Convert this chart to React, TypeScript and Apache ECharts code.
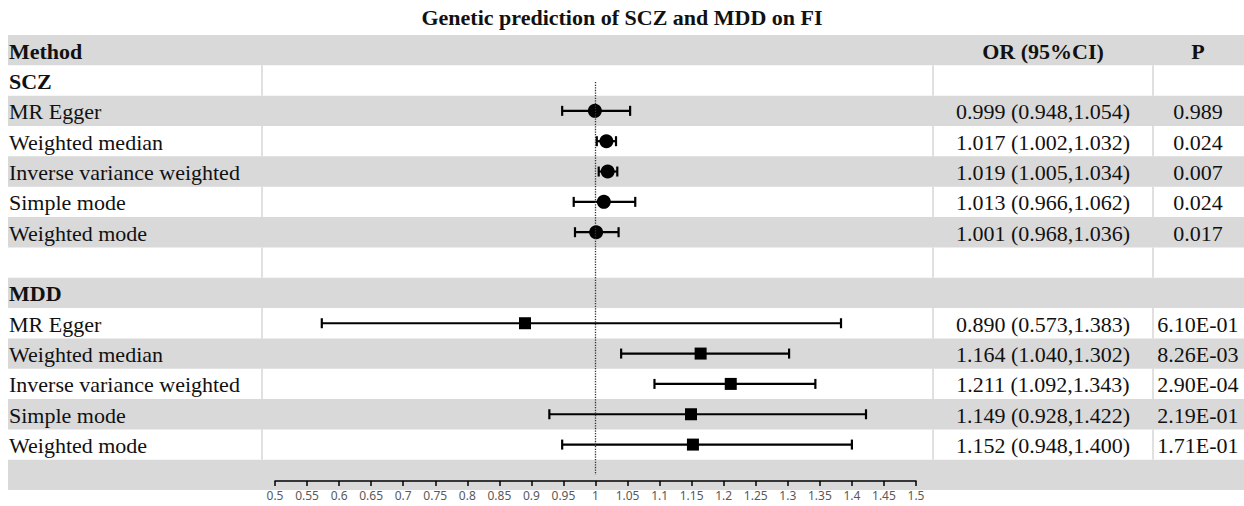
import React, { useEffect, useRef } from "react";
import * as echarts from "echarts";

const titleText = "Genetic prediction of SCZ and MDD on FI";
const headers = ["Method", "OR (95%CI)", "P"];
const groups = ["SCZ", "MDD"];
const methods = [
  "MR Egger",
  "Weighted median",
  "Inverse variance weighted",
  "Simple mode",
  "Weighted mode",
];
const sczOR = [0.999, 1.017, 1.019, 1.013, 1.001];
const sczLo = [0.948, 1.002, 1.005, 0.966, 0.968];
const sczHi = [1.054, 1.032, 1.034, 1.062, 1.036];
const sczP = ["0.989", "0.024", "0.007", "0.024", "0.017"];
const mddOR = [0.89, 1.164, 1.211, 1.149, 1.152];
const mddLo = [0.573, 1.04, 1.092, 0.928, 0.948];
const mddHi = [1.383, 1.302, 1.343, 1.422, 1.4];
const mddP = ["6.10E-01", "8.26E-03", "2.90E-04", "2.19E-01", "1.71E-01"];
const xMin = 0.5;
const xMax = 1.5;
const xStep = 0.05;
const refValue = 1;

type Row = { label: string; bold: boolean; or: string; p: string };

const fmtCI = (o: number, l: number, h: number) =>
  `${o.toFixed(3)} (${l.toFixed(3)},${h.toFixed(3)})`;

function buildRows(): Row[] {
  const rows: Row[] = [];
  rows.push({ label: headers[0], bold: true, or: headers[1], p: headers[2] });
  const sets = [
    { or: sczOR, lo: sczLo, hi: sczHi, p: sczP },
    { or: mddOR, lo: mddLo, hi: mddHi, p: mddP },
  ];
  groups.forEach((g, gi) => {
    rows.push({ label: g, bold: true, or: "", p: "" });
    const s = sets[gi];
    methods.forEach((m, k) => {
      rows.push({ label: m, bold: false, or: fmtCI(s.or[k], s.lo[k], s.hi[k]), p: s.p[k] });
    });
    rows.push({ label: "", bold: false, or: "", p: "" });
  });
  return rows;
}

export default function App() {
  const ref = useRef<HTMLDivElement>(null);
  useEffect(() => {
    if (!ref.current) return;
    const chart = echarts.init(ref.current, undefined, { renderer: "svg" });
    const rows = buildRows();
    const serif = '"Liberation Serif", "Times New Roman", serif';
    const tableLeft = 8;
    const tableRight = 1244;
    const sep = [262, 933, 1153];
    const orCenter = 1043;
    const pCenter = 1198;
    const gray = "#d9d9d9";

    const sczStart = 2;
    const mddStart = 2 + methods.length + 2;
    const sczPoints = sczOR.map((v, k) => [v, sczStart + k + 0.5]);
    const mddPoints = mddOR.map((v, k) => [v, mddStart + k + 0.5]);
    const bars = [
      ...sczLo.map((l, k) => [l, sczHi[k], sczStart + k + 0.5]),
      ...mddLo.map((l, k) => [l, mddHi[k], mddStart + k + 0.5]),
    ];

    const option: any = {
      animation: false,
      title: {
        text: titleText,
        left: "center",
        top: 1,
        textStyle: { fontFamily: serif, fontWeight: "bold", fontSize: 22, color: "#111" },
      },
      grid: { left: 275, right: 1244 - 916, top: 35, height: 446 },
      xAxis: {
        type: "value",
        z: 10,
        min: xMin,
        max: xMax,
        interval: xStep,
        splitLine: { show: false },
        axisLine: { show: true, onZero: false, lineStyle: { color: "#000", width: 1.5 } },
        axisTick: { show: true, length: 5, lineStyle: { color: "#000", width: 1.5 } },
        axisLabel: {
          margin: 8,
          fontSize: 12,
          fontFamily: '"Noto Sans", sans-serif',
          color: "#595959",
          formatter: (v: number) => String(+v.toFixed(2)),
        },
      },
      yAxis: {
        type: "value",
        min: 0,
        max: 14.7,
        inverse: true,
        show: false,
      },
      series: [
        {
          type: "custom",
          z: 0,
          zlevel: 0,
          clip: false,
          silent: true,
          data: rows.map((_, i) => [xMin, i]),
          encode: { x: 0, y: 1 },
          renderItem: (params: any, api: any) => {
            const i = api.value(1);
            const row = rows[i];
            const top = api.coord([xMin, i])[1];
            const bottom = api.coord([xMin, i + 1])[1];
            const mid = (top + bottom) / 2;
            const children: any[] = [];
            if (i % 2 === 0) {
              children.push({
                type: "rect",
                shape: { x: tableLeft, y: top, width: tableRight - tableLeft, height: bottom - top },
                style: { fill: gray },
              });
            } else {
              sep.forEach((sx) => {
                children.push({
                  type: "line",
                  shape: { x1: sx, y1: top, x2: sx, y2: bottom },
                  style: { stroke: "#d6d6d6", lineWidth: 1.5 },
                });
              });
            }
            const font = {
              fontFamily: serif,
              fontSize: 22,
              fontWeight: row.bold ? "bold" : "normal",
              fill: "#111",
              verticalAlign: "middle",
            };
            if (row.label)
              children.push({ type: "text", style: { ...font, text: row.label, x: 9, y: mid + 1, align: "left" } });
            if (row.or)
              children.push({ type: "text", style: { ...font, text: row.or, x: orCenter, y: mid + 1, align: "center" } });
            if (row.p)
              children.push({ type: "text", style: { ...font, text: row.p, x: pCenter, y: mid + 1, align: "center" } });
            return { type: "group", children };
          },
        },
        {
          type: "custom",
          z: 3,
          silent: true,
          data: bars,
          encode: { x: [0, 1], y: 2 },
          renderItem: (params: any, api: any) => {
            const y = api.value(2);
            const p1 = api.coord([api.value(0), y]);
            const p2 = api.coord([api.value(1), y]);
            const cap = 5;
            const st = { stroke: "#000", lineWidth: 2.2 };
            return {
              type: "group",
              children: [
                { type: "line", shape: { x1: p1[0], y1: p1[1], x2: p2[0], y2: p2[1] }, style: st },
                { type: "line", shape: { x1: p1[0], y1: p1[1] - cap, x2: p1[0], y2: p1[1] + cap }, style: st },
                { type: "line", shape: { x1: p2[0], y1: p2[1] - cap, x2: p2[0], y2: p2[1] + cap }, style: st },
              ],
            };
          },
          markLine: {
            silent: true,
            symbol: "none",
            label: { show: false },
            lineStyle: { type: "dotted", color: "#333", width: 1.3 },
            data: [[{ coord: [refValue, 1.55] }, { coord: [refValue, 14.5] }]],
          },
        },
        {
          type: "scatter",
          z: 4,
          silent: true,
          symbol: "circle",
          symbolSize: 14,
          itemStyle: { color: "#000", opacity: 1 },
          data: sczPoints,
        },
        {
          type: "scatter",
          z: 4,
          silent: true,
          symbol: "rect",
          symbolSize: 12,
          itemStyle: { color: "#000", opacity: 1 },
          data: mddPoints,
        },
      ],
    };
    chart.setOption(option);
    return () => chart.dispose();
  }, []);
  return (
    <div
      ref={ref}
      style={{ position: "fixed", left: 0, top: 0, width: 1244, height: 506, background: "#fff" }}
    />
  );
}
